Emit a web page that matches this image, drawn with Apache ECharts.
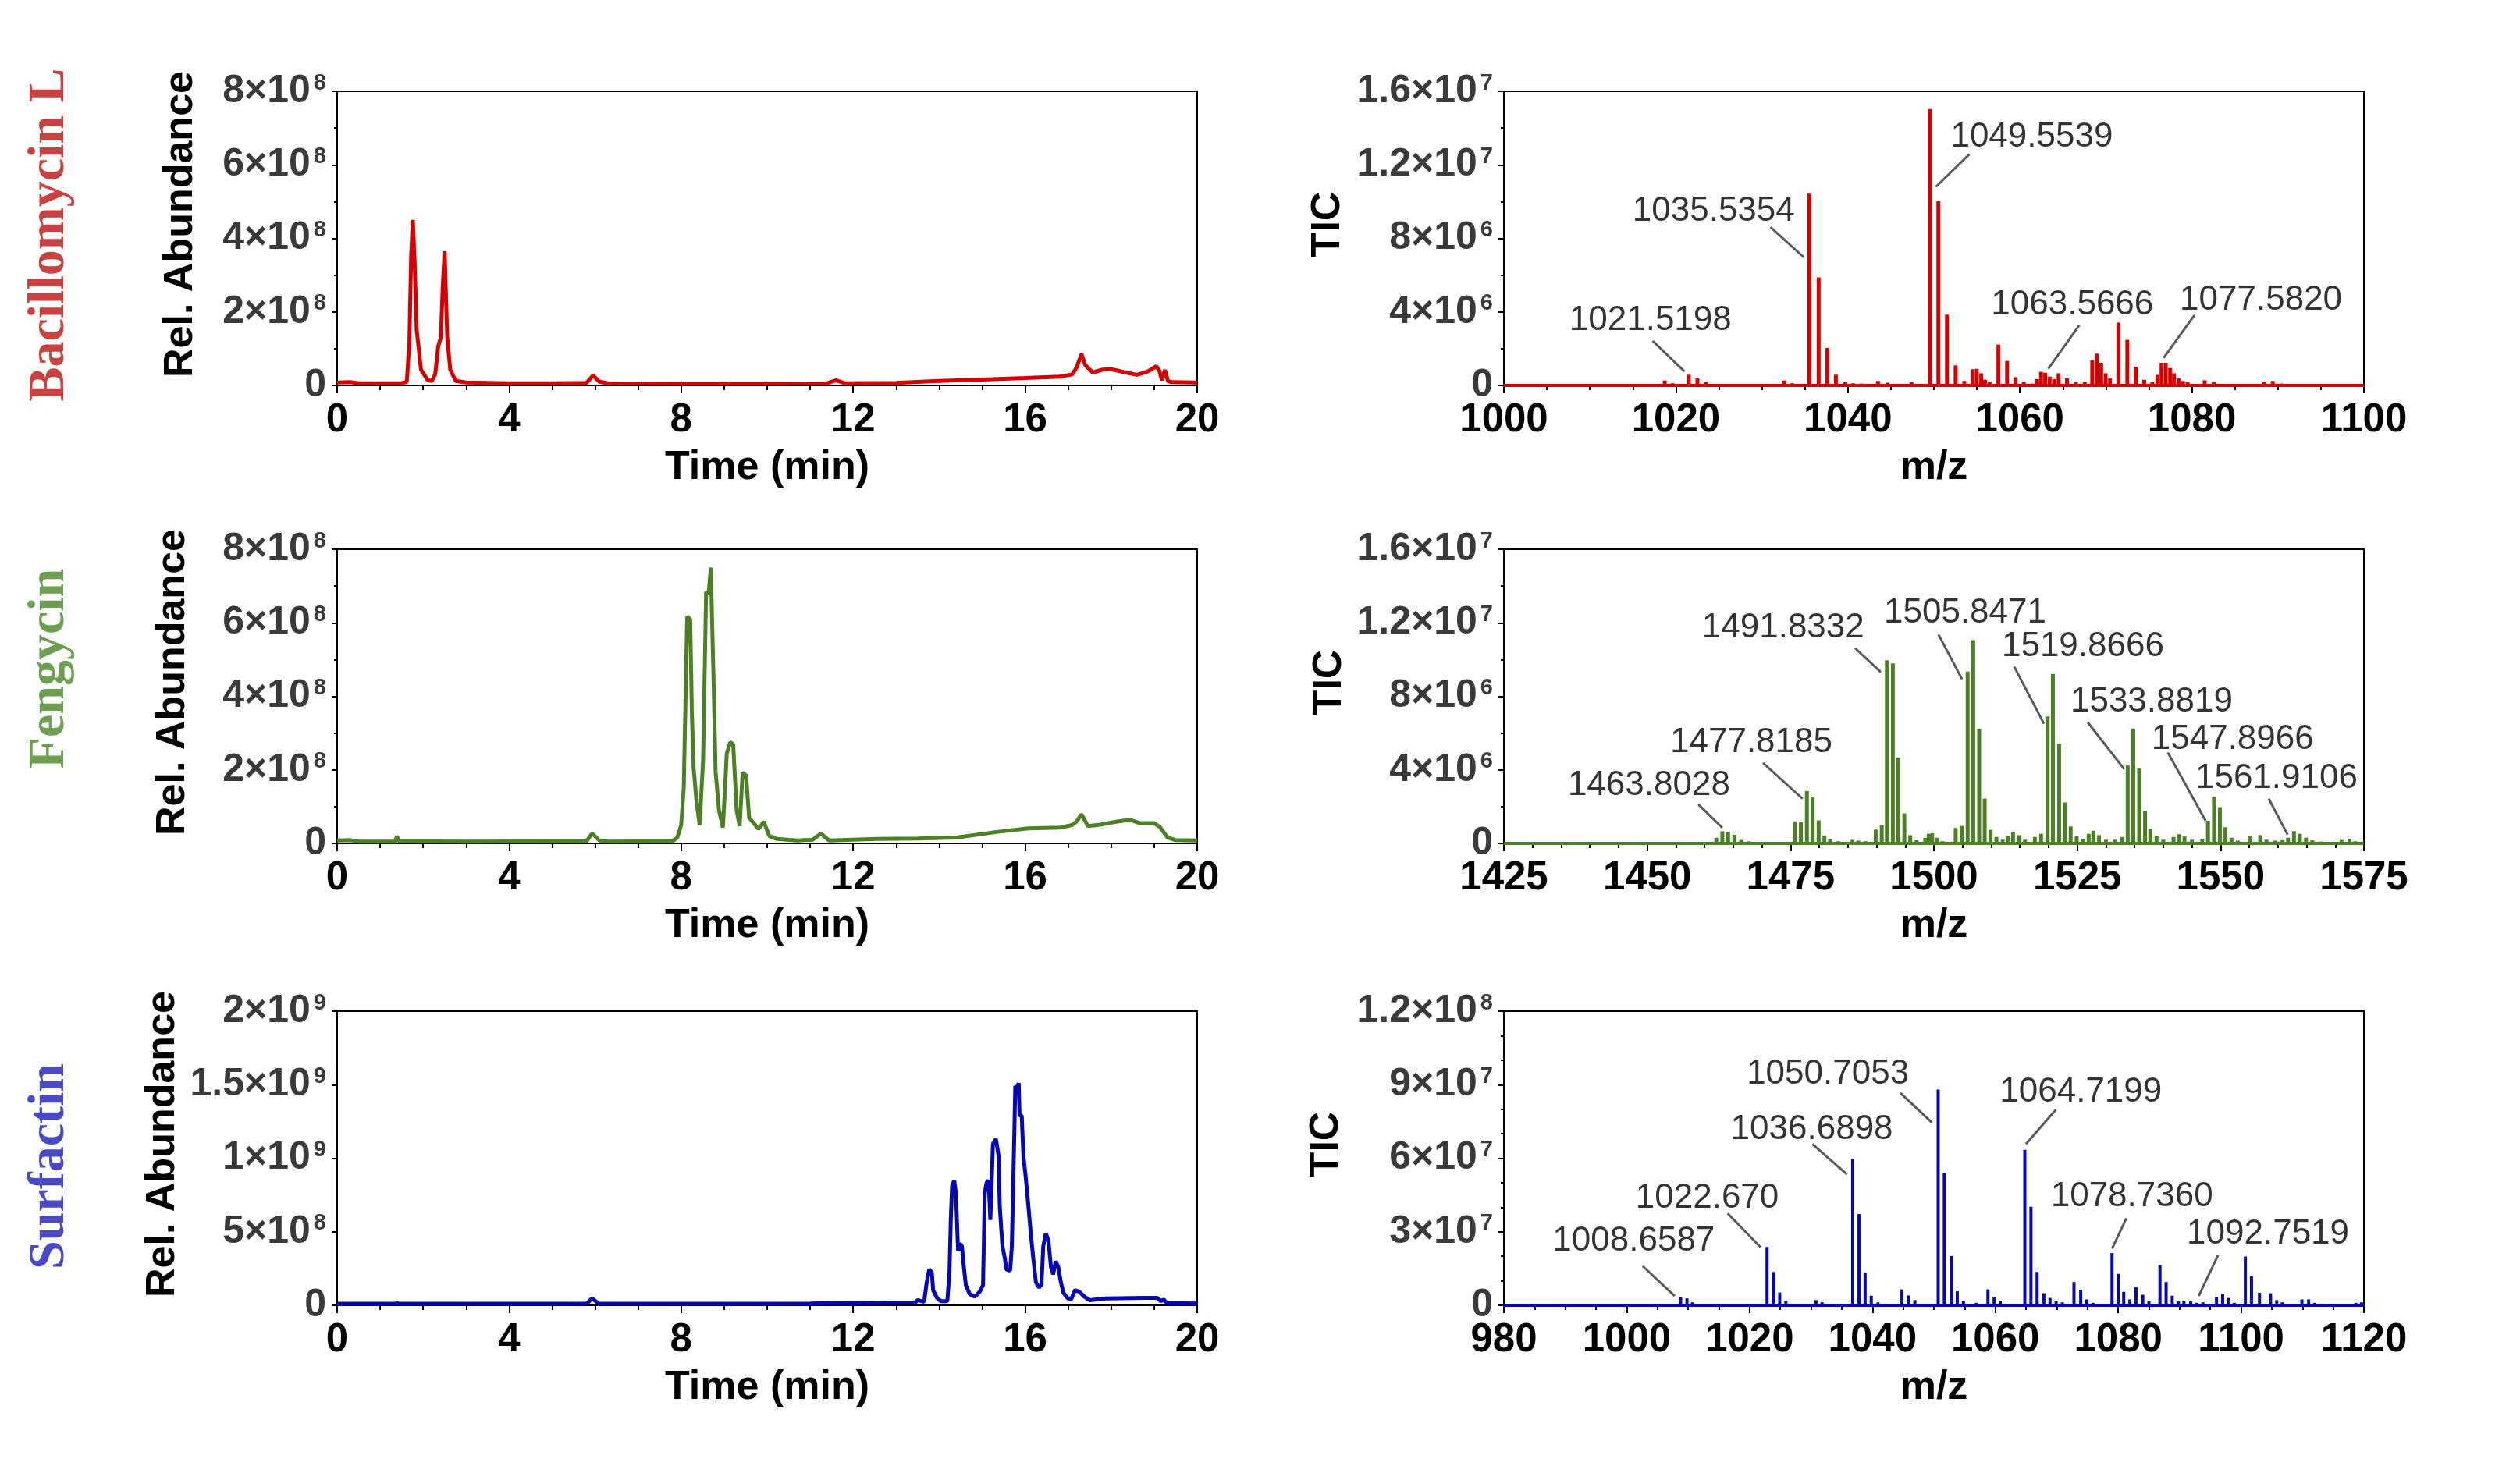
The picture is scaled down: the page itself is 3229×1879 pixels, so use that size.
<!DOCTYPE html>
<html>
<head>
<meta charset="utf-8">
<script src="https://cdn.jsdelivr.net/npm/echarts@6/dist/echarts.min.js"></script>
<style>
  html, body { margin: 0; padding: 0; background: #fff; }
  #chart { width: 3229px; height: 1879px; }
</style>
</head>
<body>
<div id="chart"></div>
<script>
// values

// chromatograms: retention time (min) / abundance (x1e8)
const bacTime = [0, 0.3, 0.5, 1.0, 1.5, 1.62, 1.68, 1.72, 1.76, 1.8, 1.85, 1.95, 2.1, 2.2, 2.28, 2.35, 2.41, 2.46, 2.5, 2.56, 2.63, 2.76, 3.0, 4.0, 5.0, 5.8, 5.95, 6.1, 6.3, 8.0, 10.0, 11.4, 11.6, 11.8, 13.0, 14.0, 15.0, 16.0, 16.8, 17.1, 17.2, 17.31, 17.4, 17.57, 17.8, 18.0, 18.3, 18.6, 18.85, 19.05, 19.12, 19.18, 19.25, 19.32, 19.4, 20.0];
const bacAbund = [0.08, 0.09, 0.06, 0.06, 0.06, 0.1, 1.2, 3.5, 4.5, 3.4, 1.5, 0.43, 0.15, 0.12, 0.3, 1.06, 1.3, 2.8, 3.65, 1.3, 0.43, 0.12, 0.08, 0.06, 0.06, 0.07, 0.27, 0.1, 0.06, 0.05, 0.05, 0.06, 0.14, 0.06, 0.07, 0.12, 0.16, 0.2, 0.24, 0.3, 0.5, 0.85, 0.55, 0.35, 0.43, 0.44, 0.36, 0.29, 0.38, 0.52, 0.4, 0.14, 0.42, 0.12, 0.09, 0.08];

const fenTime = [0, 0.3, 0.5, 1.35, 1.39, 1.43, 3.0, 5.8, 5.93, 6.1, 6.3, 7.8, 7.91, 8.0, 8.06, 8.1, 8.14, 8.21, 8.25, 8.29, 8.36, 8.43, 8.51, 8.56, 8.58, 8.64, 8.69, 8.72, 8.75, 8.8, 8.88, 8.97, 9.02, 9.06, 9.14, 9.21, 9.29, 9.36, 9.43, 9.51, 9.58, 9.69, 9.8, 9.92, 10.05, 10.23, 10.7, 11.06, 11.25, 11.44, 12.55, 13.5, 14.4, 15.33, 16.07, 16.81, 17.09, 17.2, 17.31, 17.46, 17.74, 18.11, 18.44, 18.67, 19.0, 19.13, 19.31, 19.5, 20.0];
const fenAbund = [0.08, 0.09, 0.05, 0.05, 0.2, 0.06, 0.05, 0.06, 0.27, 0.08, 0.05, 0.06, 0.16, 0.5, 1.5, 3.85, 6.17, 6.1, 3.5, 2.05, 1.1, 0.5, 2.28, 5.5, 6.84, 6.8, 7.5, 6.0, 4.64, 1.96, 0.9, 0.43, 1.5, 2.44, 2.75, 2.7, 0.9, 0.47, 1.93, 1.85, 0.7, 0.55, 0.39, 0.59, 0.2, 0.12, 0.08, 0.1, 0.27, 0.08, 0.12, 0.13, 0.16, 0.31, 0.41, 0.43, 0.5, 0.6, 0.79, 0.47, 0.51, 0.59, 0.64, 0.55, 0.55, 0.45, 0.16, 0.09, 0.08];

const surTime = [0, 1.35, 1.4, 1.45, 5.8, 5.93, 6.08, 6.3, 11.0, 11.6, 12.1, 13.44, 13.5, 13.65, 13.71, 13.77, 13.83, 13.86, 13.95, 14.04, 14.19, 14.24, 14.27, 14.3, 14.35, 14.39, 14.44, 14.48, 14.53, 14.56, 14.62, 14.71, 14.83, 14.95, 15.02, 15.06, 15.1, 15.15, 15.19, 15.22, 15.25, 15.32, 15.38, 15.41, 15.47, 15.53, 15.56, 15.65, 15.69, 15.74, 15.77, 15.81, 15.85, 15.87, 15.92, 15.96, 16.01, 16.07, 16.13, 16.19, 16.25, 16.32, 16.38, 16.42, 16.48, 16.54, 16.6, 16.65, 16.71, 16.77, 16.83, 16.89, 16.98, 17.07, 17.16, 17.25, 17.38, 17.5, 17.86, 18.77, 19.07, 19.16, 19.22, 19.3, 20.0];
const surAbund = [0.1, 0.1, 0.13, 0.1, 0.1, 0.47, 0.12, 0.1, 0.12, 0.16, 0.14, 0.18, 0.35, 0.23, 1.56, 2.45, 2.2, 1.03, 0.5, 0.28, 0.28, 2.27, 5.8, 8.1, 8.5, 7.6, 3.7, 4.2, 4.0, 2.98, 1.38, 0.76, 0.58, 0.94, 1.38, 7.6, 8.3, 8.5, 5.8, 8.3, 10.96, 11.3, 10.2, 6.7, 4.04, 3.15, 2.45, 2.36, 4.0, 10.6, 14.9, 14.8, 15.1, 12.9, 12.9, 10.1, 8.8, 6.9, 4.9, 3.16, 1.56, 1.2, 1.4, 4.0, 4.9, 4.4, 2.6, 2.1, 3.0, 2.6, 1.56, 0.85, 0.5, 0.41, 1.03, 0.94, 0.58, 0.35, 0.46, 0.5, 0.5, 0.28, 0.4, 0.14, 0.12];

// mass spectra: m/z / TIC
const bacMz = [1018.7, 1019.6, 1021.5, 1022.5, 1023.5, 1024.5, 1032.6, 1033.5, 1035.5, 1036.6, 1037.6, 1038.6, 1039.7, 1040.6, 1041.6, 1043.5, 1044.6, 1047.4, 1049.55, 1050.52, 1051.52, 1052.53, 1053.53, 1054.5, 1054.98, 1055.5, 1055.95, 1056.47, 1057.5, 1058.51, 1059.48, 1060.45, 1061.5, 1062.0, 1062.46, 1062.94, 1063.46, 1063.98, 1064.5, 1065.47, 1066.5, 1067.54, 1068.41, 1068.93, 1069.45, 1069.97, 1070.48, 1071.45, 1072.49, 1073.46, 1074.46, 1075.4, 1076.0, 1076.47, 1076.96, 1077.47, 1077.92, 1078.44, 1078.96, 1079.5, 1081.49, 1082.53, 1088.37, 1089.4, 1090.4, 1095.5, 1097.0];
const bacTic = [0.27, 0.12, 0.58, 0.39, 0.19, 0.06, 0.27, 0.12, 10.43, 5.88, 2.04, 0.58, 0.19, 0.12, 0.1, 0.24, 0.15, 0.17, 15.03, 10.03, 3.85, 1.09, 0.24, 0.88, 0.9, 0.66, 0.31, 0.17, 2.22, 1.33, 0.45, 0.2, 0.1, 0.34, 0.74, 0.69, 0.48, 0.34, 0.66, 0.38, 0.17, 0.2, 1.37, 1.73, 1.23, 0.66, 0.38, 3.42, 2.48, 1.02, 0.31, 0.17, 0.57, 1.23, 1.23, 0.95, 0.66, 0.38, 0.24, 0.17, 0.28, 0.2, 0.21, 0.24, 0.1, 0.08, 0.08]; // x1e6

const fenMz = [1462.05, 1463.1, 1464.1, 1465.2, 1466.4, 1467.7, 1470.5, 1473.0, 1475.8, 1476.8, 1477.85, 1478.85, 1479.9, 1480.9, 1481.9, 1483.3, 1485.8, 1486.8, 1488.1, 1489.85, 1490.9, 1491.8, 1492.84, 1493.8, 1494.84, 1495.87, 1496.97, 1498.5, 1499.1, 1499.7, 1500.6, 1501.5, 1503.8, 1504.85, 1505.89, 1506.86, 1507.89, 1508.86, 1509.89, 1510.9, 1512.0, 1512.9, 1513.8, 1514.9, 1515.9, 1517.6, 1518.7, 1519.84, 1520.75, 1521.84, 1522.82, 1523.85, 1524.9, 1526.0, 1527.0, 1527.8, 1528.8, 1530.0, 1531.5, 1532.8, 1533.8, 1534.77, 1535.8, 1536.83, 1537.74, 1538.83, 1540.0, 1541.8, 1542.8, 1543.7, 1545.0, 1546.8, 1547.8, 1548.85, 1549.88, 1550.85, 1551.9, 1553.0, 1555.2, 1556.9, 1558.0, 1559.5, 1560.8, 1561.77, 1562.8, 1563.83, 1564.9, 1566.0, 1567.5, 1571.1, 1572.5, 1573.5];
const fenTic = [0.31, 0.66, 0.63, 0.47, 0.19, 0.11, 0.06, 0.06, 1.2, 1.15, 2.85, 2.5, 1.25, 0.43, 0.24, 0.12, 0.19, 0.15, 0.12, 0.75, 1.0, 9.96, 9.79, 4.67, 1.63, 0.45, 0.17, 0.3, 0.52, 0.55, 0.31, 0.12, 0.84, 0.95, 9.35, 11.06, 6.23, 2.44, 0.74, 0.35, 0.2, 0.4, 0.64, 0.45, 0.2, 0.35, 0.52, 6.91, 9.22, 5.42, 2.23, 0.92, 0.38, 0.25, 0.52, 0.69, 0.45, 0.2, 0.2, 0.35, 4.24, 6.25, 4.07, 1.77, 0.78, 0.41, 0.2, 0.35, 0.5, 0.38, 0.2, 0.25, 1.23, 2.54, 1.97, 0.88, 0.31, 0.15, 0.38, 0.45, 0.2, 0.15, 0.18, 0.31, 0.67, 0.52, 0.31, 0.17, 0.1, 0.19, 0.24, 0.12]; // x1e6

const surMz = [1008.77, 1009.8, 1010.7, 1022.84, 1023.9, 1024.9, 1025.9, 1030.8, 1031.8, 1036.78, 1037.8, 1038.8, 1039.8, 1040.9, 1044.8, 1045.9, 1046.9, 1050.7, 1051.7, 1052.9, 1053.8, 1054.8, 1056.9, 1058.8, 1059.8, 1060.8, 1064.8, 1065.8, 1066.8, 1067.9, 1068.9, 1069.9, 1070.9, 1072.8, 1073.9, 1074.9, 1075.9, 1079.0, 1080.0, 1080.9, 1081.9, 1082.9, 1084.0, 1085.0, 1086.8, 1087.8, 1088.8, 1089.8, 1090.7, 1091.8, 1092.8, 1093.8, 1096.0, 1097.0, 1097.9, 1098.9, 1100.7, 1101.7, 1103.0, 1104.8, 1105.8, 1106.7, 1109.9, 1111.0, 1112.0, 1118.7, 1119.6];
const surTic = [0.33, 0.28, 0.12, 2.38, 1.36, 0.52, 0.18, 0.21, 0.12, 5.97, 3.72, 1.34, 0.39, 0.12, 0.65, 0.4, 0.21, 8.8, 5.39, 2.01, 0.57, 0.18, 0.1, 0.65, 0.33, 0.18, 6.34, 4.02, 1.36, 0.49, 0.3, 0.18, 0.12, 0.95, 0.61, 0.24, 0.1, 2.13, 1.28, 0.55, 0.24, 0.73, 0.43, 0.16, 1.64, 0.95, 0.39, 0.16, 0.16, 0.16, 0.1, 0.12, 0.33, 0.46, 0.3, 0.1, 1.99, 1.19, 0.51, 0.49, 0.21, 0.12, 0.24, 0.24, 0.1, 0.1, 0.12]; // x1e7

// peak labels, where their text sits [m/z, TIC] and the leader line [x1, y1, x2, y2]
const bacPeaks = ['1021.5198', '1035.5354', '1049.5539', '1063.5666', '1077.5820'];
const bacPeakText = [[1017.04, 2.89], [1024.39, 8.83], [1061.38, 12.86], [1066.09, 3.73], [1088.03, 3.99]];
const bacPeakLine = [[1017.3, 2.42, 1021.0, 0.76], [1031.0, 8.61, 1034.9, 6.96], [1054.13, 12.58, 1050.23, 10.8], [1066.9, 3.27, 1063.3, 0.91], [1080.3, 3.82, 1076.7, 1.49]];

const fenPeaks = ['1463.8028', '1477.8185', '1491.8332', '1505.8471', '1519.8666', '1533.8819', '1547.8966', '1561.9106'];
const fenPeakText = [[1450.3, 2.51], [1468.15, 4.85], [1473.7, 11.1], [1505.44, 11.87], [1525.99, 10.08], [1537.97, 7.06], [1552.1, 5.02], [1559.75, 2.89]];
const fenPeakLine = [[1458.9, 2.13, 1463.1, 0.85], [1470.2, 4.38, 1477.1, 2.43], [1486.25, 10.62, 1490.74, 9.32], [1500.8, 11.36, 1504.9, 8.94], [1514.0, 9.62, 1519.2, 6.51], [1526.8, 6.6, 1533.2, 4.04], [1540.8, 4.94, 1547.4, 1.23], [1558.4, 2.43, 1561.7, 0.47]];

const surPeaks = ['1008.6587', '1022.670', '1036.6898', '1050.7053', '1064.7199', '1078.7360', '1092.7519'];
const surPeakText = [[1001.13, 2.14], [1013.1, 3.89], [1030.13, 6.7], [1032.74, 8.94], [1073.92, 8.23], [1082.23, 3.96], [1104.38, 2.43]];
const surPeakLine = [[1002.6, 1.6, 1007.8, 0.38], [1016.43, 3.75, 1021.76, 2.37], [1030.22, 6.58, 1035.85, 5.34], [1044.54, 8.66, 1049.65, 7.46], [1069.86, 7.98, 1064.99, 6.58], [1081.34, 3.55, 1079.0, 2.31], [1096.26, 2.04, 1093.1, 0.38]];

const rowNames = ['Bacillomycin L', 'Fengycin', 'Surfactin'];

// ---- layout / style ----
const SANS = '"Liberation Sans", Arial, sans-serif';
const SERIF = '"Liberation Serif", "Times New Roman", serif';
const RED = '#d70000', GREEN = '#4d7f24', BLUE = '#0606b2';
const rowColors = ['#c84241', '#6c9f50', '#4a4ac4'];
const rowLabelY = [301, 857, 1495];
const rowTop = [117, 704, 1296];
const colLeft = [432, 1927];
const plotW = 1102, plotH = 377;

function pairs(xs, ys, unit) {
  return xs.map((x, i) => [x, ys[i] * unit]);
}

// 8e8 -> 8×10^8 with the exponent raised
function sci(v) {
  if (v === 0) return '{m|0}';
  const e = Math.floor(Math.log10(v) + 1e-9);
  const m = +(v / Math.pow(10, e)).toFixed(2);
  return '{m|' + m + '×10}{e|' + e + '}';
}

const grids = [];
for (let r = 0; r < 3; r++) {
  for (let c = 0; c < 2; c++) {
    grids.push({
      left: colLeft[c], top: rowTop[r], width: plotW, height: plotH,
      show: true, borderColor: '#000', borderWidth: 2, backgroundColor: 'transparent'
    });
  }
}

const tickStyle = { color: '#000', width: 2 };

function xAxis(i, min, max, interval, minorSplit, name) {
  return {
    type: 'value', gridIndex: i, min: min, max: max, interval: interval,
    name: name, nameLocation: 'middle', nameGap: 80,
    nameTextStyle: { fontFamily: SANS, fontWeight: 'bold', fontSize: 52, color: '#000' },
    axisLine: { show: true, onZero: false, lineStyle: tickStyle },
    axisTick: { show: true, length: 10, lineStyle: tickStyle },
    minorTick: { show: true, splitNumber: minorSplit, length: 6, lineStyle: tickStyle },
    axisLabel: {
      margin: 19, fontFamily: SANS, fontWeight: 'bold', fontSize: 51, color: '#000',
      formatter: v => String(v)
    },
    splitLine: { show: false },
    minorSplitLine: { show: false }
  };
}

function yAxis(i, max, interval, minorSplit, name, gap) {
  return {
    type: 'value', gridIndex: i, min: 0, max: max, interval: interval,
    name: name, nameLocation: 'middle', nameGap: gap, nameRotate: 90,
    nameTextStyle: { fontFamily: SANS, fontWeight: 'bold', fontSize: 52, color: '#000', padding: [0, 0, 0, 36] },
    axisLine: { show: true, onZero: false, lineStyle: tickStyle },
    axisTick: { show: true, length: 7, lineStyle: tickStyle },
    minorTick: { show: minorSplit > 1, splitNumber: minorSplit || 2, length: 4, lineStyle: tickStyle },
    axisLabel: {
      margin: 14,
      formatter: sci,
      rich: {
        m: { fontFamily: SANS, fontWeight: 'bold', fontSize: 50, color: '#3a3a3a' },
        e: { fontFamily: SANS, fontWeight: 'bold', fontSize: 29, color: '#3a3a3a', verticalAlign: 'top', padding: [0, 0, 0, 4] }
      }
    },
    splitLine: { show: false },
    minorSplitLine: { show: false }
  };
}

const xAxes = [
  xAxis(0, 0, 20, 4, 4, 'Time (min)'),
  xAxis(1, 1000, 1100, 20, 4, 'm/z'),
  xAxis(2, 0, 20, 4, 4, 'Time (min)'),
  xAxis(3, 1425, 1575, 25, 5, 'm/z'),
  xAxis(4, 0, 20, 4, 4, 'Time (min)'),
  xAxis(5, 980, 1120, 20, 4, 'm/z')
];

const yAxes = [
  yAxis(0, 8e8, 2e8, 2, 'Rel. Abundance', 174),
  yAxis(1, 1.6e7, 4e6, 2, 'TIC', 199),
  yAxis(2, 8e8, 2e8, 2, 'Rel. Abundance', 184),
  yAxis(3, 1.6e7, 4e6, 2, 'TIC', 197),
  yAxis(4, 2e9, 5e8, 0, 'Rel. Abundance', 197),
  yAxis(5, 1.2e8, 3e7, 3, 'TIC', 201)
];

function chromSeries(i, time, abund, color) {
  return {
    type: 'line', xAxisIndex: i, yAxisIndex: i,
    data: pairs(time, abund, 1e8),
    showSymbol: false, symbol: 'none', silent: true,
    lineStyle: { color: color, width: 5 }
  };
}

function specSeries(i, mz, tic, unit, color, width) {
  return {
    type: 'bar', xAxisIndex: i, yAxisIndex: i,
    data: pairs(mz, tic, unit),
    barWidth: width, silent: true,
    itemStyle: { color: color },
    markLine: {
      silent: true, symbol: 'none', label: { show: false },
      lineStyle: { color: color, width: 4, type: 'solid' },
      data: [{ yAxis: 0 }]
    }
  };
}

function peakSeries(i, names, textPos, lines, unit) {
  return [
    {
      type: 'lines', coordinateSystem: 'cartesian2d', xAxisIndex: i, yAxisIndex: i,
      silent: true, z: 5,
      lineStyle: { color: '#595959', width: 3, opacity: 1 },
      data: lines.map(l => ({ coords: [[l[0], l[1] * unit], [l[2], l[3] * unit]] }))
    },
    {
      type: 'scatter', xAxisIndex: i, yAxisIndex: i, symbolSize: 0, silent: true, z: 6,
      data: textPos.map((p, k) => ({ name: names[k], value: [p[0], p[1] * unit] })),
      label: {
        show: true, position: 'top', distance: -7, formatter: '{b}',
        fontFamily: SANS, fontSize: 44, color: '#000'
      }
    }
  ];
}

const series = [
  chromSeries(0, bacTime, bacAbund, RED),
  specSeries(1, bacMz, bacTic, 1e6, RED, 5),
  chromSeries(2, fenTime, fenAbund, GREEN),
  specSeries(3, fenMz, fenTic, 1e6, GREEN, 5),
  chromSeries(4, surTime, surAbund, BLUE),
  specSeries(5, surMz, surTic, 1e7, BLUE, 4)
].concat(
  peakSeries(1, bacPeaks, bacPeakText, bacPeakLine, 1e6),
  peakSeries(3, fenPeaks, fenPeakText, fenPeakLine, 1e6),
  peakSeries(5, surPeaks, surPeakText, surPeakLine, 1e7)
);

const rowLabels = rowNames.map((t, k) => ({
  type: 'text', x: 64, y: rowLabelY[k], rotation: Math.PI / 2,
  style: {
    text: t, fill: rowColors[k],
    font: 'bold 66px ' + SERIF,
    align: 'center', verticalAlign: 'middle'
  }
}));

const chart = echarts.init(document.getElementById('chart'));
chart.setOption({
  animation: false,
  backgroundColor: '#fff',
  grid: grids,
  xAxis: xAxes,
  yAxis: yAxes,
  series: series,
  graphic: rowLabels
});
</script>
</body>
</html>
